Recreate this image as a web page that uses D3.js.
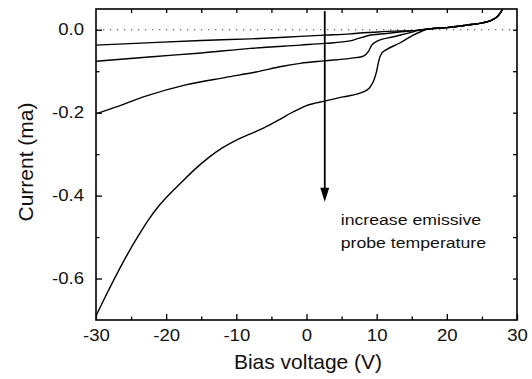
<!DOCTYPE html>
<html>
<head>
<meta charset="utf-8">
<script src="https://cdn.jsdelivr.net/npm/d3@7"></script>
<style>
  html, body { margin: 0; padding: 0; background: #fff; }
  svg { display: block; }
  text { font-family: "Liberation Sans", Arial, Helvetica, sans-serif; fill: #111; }
</style>
</head>
<body>
<svg id="chart" width="532" height="379"></svg>
<script>
// ---- data ----
const xMajorTicks = [-30, -20, -10, 0, 10, 20, 30];
const xTickLabels = ["-30", "-20", "-10", "0", "10", "20", "30"];
const xMinorTicks = [-25, -15, -5, 5, 15, 25];
const yMajorTicks = [0, -0.2, -0.4, -0.6];
const yTickLabels = ["0.0", "-0.2", "-0.4", "-0.6"];
const yMinorTicks = [-0.1, -0.3, -0.5];
const xTopTicks = [-25, -20, -15, -10, -5, 0, 5, 10, 15, 20, 25];
const yRightTicks = [0, -0.1, -0.2, -0.3, -0.4, -0.5, -0.6];

// common electron-saturation tail (all curves merge)
const tailV = [17.5, 20, 22.8, 25.2, 26.5, 27.2, 27.6, 27.85, 27.95];
const tailI = [0.002, 0.005, 0.011, 0.017, 0.024, 0.032, 0.040, 0.047, 0.050];

const curve1V = [-30, -22, -15, -8, -0.9, 2.6, 6.2, 7.6, 9.5, 11.4, 13.5, 16];
const curve1I = [-0.037, -0.031, -0.026, -0.022, -0.016, -0.013, -0.010, -0.008, -0.006, -0.004, -0.003, -0.001];

const curve2V = [-30, -22, -15, -8, -0.9, 2.6, 6.2, 7.4, 8.6, 11.4, 13.5, 16];
const curve2I = [-0.076, -0.065, -0.056, -0.045, -0.037, -0.033, -0.027, -0.021, -0.015, -0.009, -0.005, -0.001];

const curve3V = [-30, -27.1, -22.9, -17.2, -11.5, -7.2, -3.4, -0.9, 2.6, 6.2, 8.1, 8.8, 9.3, 10.0, 12.4, 15.2, 16];
const curve3I = [-0.203, -0.186, -0.160, -0.133, -0.115, -0.102, -0.088, -0.081, -0.075, -0.069, -0.064, -0.053, -0.037, -0.028, -0.017, -0.005, -0.001];

const curve4V = [-30, -28.5, -27, -25.5, -24, -22.5, -21, -19.5, -18, -16, -14, -12, -10, -8, -6, -4, -2, 0, 2.6, 5.2, 8.1, 9.0, 9.6, 10.0, 10.3, 10.7, 11.4, 13.3, 15.2, 16.5];
const curve4I = [-0.690, -0.638, -0.588, -0.541, -0.498, -0.458, -0.424, -0.396, -0.371, -0.338, -0.309, -0.285, -0.266, -0.251, -0.236, -0.218, -0.199, -0.183, -0.172, -0.162, -0.150, -0.140, -0.122, -0.100, -0.075, -0.057, -0.048, -0.032, -0.013, -0.003];

const arrowV = 2.6, arrowFrom = 0.045, arrowTo = -0.415;
const annotationLines = ["increase emissive", "probe temperature"];
const annotationV = 4.6, annotationI = -0.471;
const xTitle = "Bias voltage (V)";
const yTitle = "Current (ma)";

// ---- layout ----
const svg = d3.select("#chart");
const L = 96, R = 517, T = 9, B = 320;
const x = d3.scaleLinear().domain([-30, 30]).range([L, R]);
const y = d3.scaleLinear().domain([-0.7, 0.05]).range([B, T]);

// zero reference line (dotted)
svg.append("line")
  .attr("x1", x(-30)).attr("x2", x(30))
  .attr("y1", y(0)).attr("y2", y(0))
  .attr("stroke", "#444").attr("stroke-width", 1.2)
  .attr("stroke-dasharray", "1.3,5.7");

// curves
const line = d3.line().x(d => x(d[0])).y(d => y(d[1])).curve(d3.curveMonotoneX);
const series = [[curve1V, curve1I], [curve2V, curve2I], [curve3V, curve3I], [curve4V, curve4I]];
series.forEach(([vs, is]) => {
  const pts = vs.map((v, i) => [v, is[i]]).concat(tailV.map((v, i) => [v, tailI[i]]));
  svg.append("path").datum(pts)
    .attr("d", line)
    .attr("fill", "none").attr("stroke", "#000").attr("stroke-width", 1.4)
    .attr("stroke-linejoin", "round");
});

// axes
const fmtX = d => xTickLabels[xMajorTicks.indexOf(d)];
const fmtY = d => yTickLabels[yMajorTicks.indexOf(d)];
const sx = 1.16;

const gxMinor = svg.append("g").attr("transform", `translate(0,${B})`)
  .call(d3.axisBottom(x).tickValues(xMinorTicks).tickSizeInner(-3.5).tickSizeOuter(0).tickFormat(""));
const gx = svg.append("g").attr("transform", `translate(0,${B})`)
  .call(d3.axisBottom(x).tickValues(xMajorTicks).tickSizeInner(-6).tickSizeOuter(0).tickPadding(10).tickFormat(fmtX));
gx.selectAll("text").attr("transform", `scale(${sx},1)`);

const gyMinor = svg.append("g").attr("transform", `translate(${L},0)`)
  .call(d3.axisLeft(y).tickValues(yMinorTicks).tickSizeInner(-3.5).tickSizeOuter(0).tickFormat(""));
const gy = svg.append("g").attr("transform", `translate(${L},0)`)
  .call(d3.axisLeft(y).tickValues(yMajorTicks).tickSizeInner(-6).tickSizeOuter(0).tickPadding(12).tickFormat(fmtY));
gy.selectAll("text").attr("x", -12 / sx).attr("transform", `scale(${sx},1)`);

const gTop = svg.append("g").attr("transform", `translate(0,${T})`)
  .call(d3.axisTop(x).tickValues(xTopTicks).tickSizeInner(-4).tickSizeOuter(0).tickFormat(""));
const gRight = svg.append("g").attr("transform", `translate(${R},0)`)
  .call(d3.axisRight(y).tickValues(yRightTicks).tickSizeInner(-4).tickSizeOuter(0).tickFormat(""));

[gxMinor, gx, gyMinor, gy, gTop, gRight].forEach(g => {
  g.select(".domain").remove();
  g.selectAll("line").attr("stroke", "#000").attr("stroke-width", 1.3);
  g.selectAll("text").attr("font-size", 16).attr("fill", "#111")
    .attr("font-family", '"Liberation Sans", Arial, Helvetica, sans-serif');
});

// frame
svg.append("rect")
  .attr("x", L).attr("y", T).attr("width", R - L).attr("height", B - T)
  .attr("fill", "none").attr("stroke", "#000").attr("stroke-width", 1.6);

// arrow
const ax = x(arrowV), ay1 = y(arrowFrom), ay2 = y(arrowTo);
svg.append("line")
  .attr("x1", ax).attr("x2", ax).attr("y1", ay1).attr("y2", ay2 - 10)
  .attr("stroke", "#000").attr("stroke-width", 1.8);
svg.append("path")
  .attr("d", `M${ax - 4.5},${ay2 - 14} L${ax + 4.5},${ay2 - 14} L${ax},${ay2} Z`)
  .attr("fill", "#000");

// annotation
annotationLines.forEach((t, i) => {
  svg.append("text")
    .attr("transform", `translate(${x(annotationV) + 2},${y(annotationI) + i * 23}) scale(1.14,1)`)
    .attr("font-size", 15.5)
    .text(t);
});

// axis titles
svg.append("text")
  .attr("x", (L + R) / 2 + 1.5).attr("y", 369)
  .attr("text-anchor", "middle").attr("font-size", 21)
  .text(xTitle);
svg.append("text")
  .attr("transform", `translate(33,162) rotate(-90)`)
  .attr("text-anchor", "middle").attr("font-size", 21)
  .text(yTitle);
</script>
</body>
</html>
